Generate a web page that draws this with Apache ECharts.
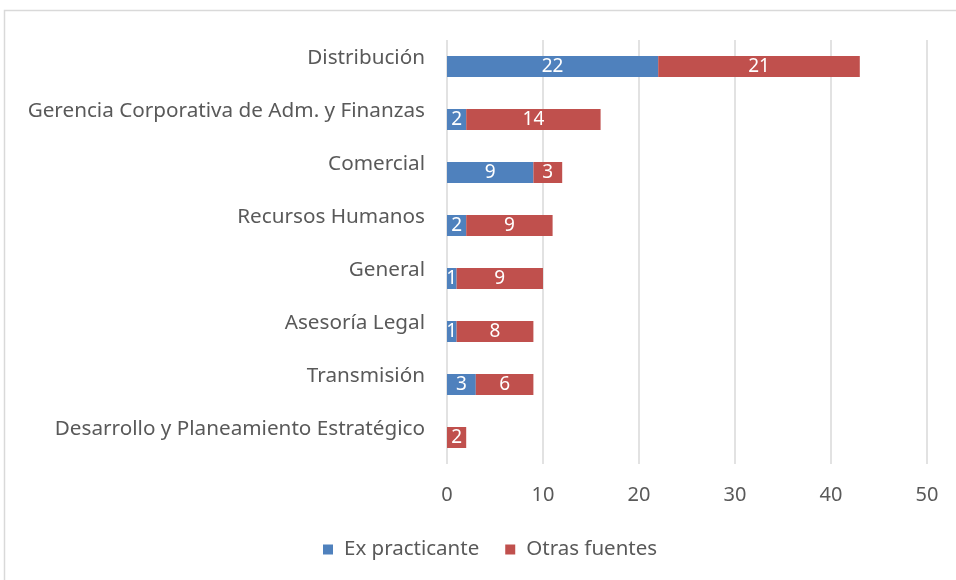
<!DOCTYPE html>
<html><head><meta charset="utf-8">
<script src="https://cdn.jsdelivr.net/npm/echarts@6/dist/echarts.min.js"></script>
<style>html,body{margin:0;padding:0;background:#fff}#c{width:956px;height:580px}</style>
</head><body><div id="c"></div>
<script>
const categories = ["Distribución","Gerencia Corporativa de Adm. y Finanzas","Comercial","Recursos Humanos","General","Asesoría Legal","Transmisión","Desarrollo y Planeamiento Estratégico"];
const exPracticante = [22, 2, 9, 2, 1, 1, 3, 0];
const otrasFuentes = [21, 14, 3, 9, 9, 8, 6, 2];
const xTicks = [0, 10, 20, 30, 40, 50];

const FONT = "Noto Sans";
const chart = echarts.init(document.getElementById('c'), null, {renderer: 'canvas'});
const lbl = {show: true, position: 'inside', color: '#fff', fontFamily: FONT, fontSize: 19,
  formatter: p => p.value === 0 ? '' : p.value};
chart.setOption({
  animation: false,
  graphic: [{type: 'rect', shape: {x: 4.5, y: 10.5, width: 1000, height: 1000},
    style: {fill: 'none', stroke: '#d9d9d9', lineWidth: 1.5}, silent: true}],
  grid: {left: 447, right: 29, top: 40, bottom: 116},
  legend: {bottom: 15, left: 318, itemWidth: 10, itemHeight: 10, itemGap: 26,
    icon: 'rect', textStyle: {color: '#595959', fontFamily: FONT, fontSize: 20.5,
      padding: [0, 0, 0, 6]}},
  xAxis: {type: 'value', min: xTicks[0], max: xTicks[xTicks.length-1], interval: 10,
    axisLine: {show: false}, axisTick: {show: false},
    splitLine: {lineStyle: {color: '#d9d9d9', width: 1.5}},
    axisLabel: {color: '#595959', fontFamily: FONT, fontSize: 20, margin: 21}},
  yAxis: {type: 'category', data: categories, inverse: true,
    axisLine: {show: false}, axisTick: {show: false},
    axisLabel: {color: '#595959', fontFamily: FONT, fontSize: 20.7, margin: 22,
      verticalAlign: 'bottom', lineHeight: 16}},
  series: [
    {name: 'Ex practicante', type: 'bar', stack: 's', data: exPracticante, barWidth: 21,
      itemStyle: {color: '#4F81BD'}, label: lbl},
    {name: 'Otras fuentes', type: 'bar', stack: 's', data: otrasFuentes, barWidth: 21,
      itemStyle: {color: '#C0504D'}, label: lbl}
  ]
});
</script></body></html>
